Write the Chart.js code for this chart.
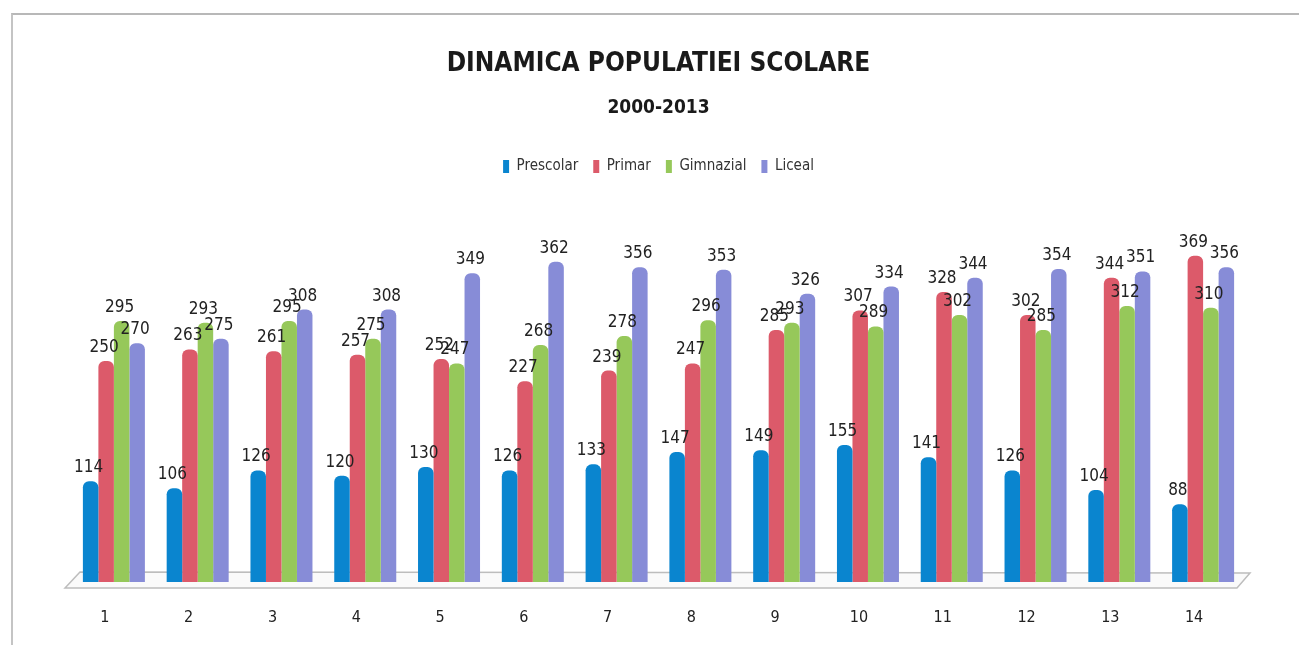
<!DOCTYPE html>
<html>
<head>
<meta charset="utf-8">
<script src="https://cdn.jsdelivr.net/npm/chart.js@4"></script>
<style>
  html, body { margin: 0; padding: 0; background: #fff; }
  #wrap { position: relative; width: 1299px; height: 645px; overflow: hidden; }
  #frame { position: absolute; left: 11px; top: 13px; width: 1400px; height: 700px;
           border-top: 2px solid #b8b8b8; border-left: 2px solid #c4c4c4; }
  canvas { position: absolute; left: 0; top: 0; }
</style>
</head>
<body>
<div id="wrap">
  <div id="frame"></div>
  <canvas id="chart" width="1299" height="645"></canvas>
</div>
<script>
// categories and series
const categories = ['1', '2', '3', '4', '5', '6', '7', '8', '9', '10', '11', '12', '13', '14'];
const prescolar = [114, 106, 126, 120, 130, 126, 133, 147, 149, 155, 141, 126, 104, 88];
const primar = [250, 263, 261, 257, 252, 227, 239, 247, 285, 307, 328, 302, 344, 369];
const gimnazial = [295, 293, 295, 275, 247, 268, 278, 296, 293, 289, 302, 285, 312, 310];
const liceal = [270, 275, 308, 308, 349, 362, 356, 353, 326, 334, 344, 354, 351, 356];

const narrow = '"Liberation Sans Narrow", "DejaVu Sans Condensed", sans-serif';

// grey floor under the bars, like the 3D floor of the original
const floorPlugin = {
  id: 'floor',
  beforeDatasetsDraw(chart) {
    const { ctx, chartArea } = chart;
    const y = chartArea.bottom;
    ctx.save();
    ctx.beginPath();
    ctx.moveTo(chartArea.left - 7, y + 6);
    ctx.lineTo(chartArea.left + 8, y - 10);
    ctx.lineTo(chartArea.right + 5, y - 9);
    ctx.lineTo(chartArea.right - 8, y + 6);
    ctx.closePath();
    ctx.fillStyle = '#fafafa';
    ctx.fill();
    ctx.strokeStyle = '#bdbdbd';
    ctx.lineWidth = 1.5;
    ctx.stroke();
    ctx.restore();
  }
};

// value labels above every bar
const valueLabels = {
  id: 'valueLabels',
  afterDatasetsDraw(chart) {
    const { ctx } = chart;
    ctx.save();
    ctx.font = '17px ' + narrow;
    ctx.fillStyle = '#222';
    ctx.textAlign = 'center';
    ctx.textBaseline = 'bottom';
    chart.data.datasets.forEach((ds, i) => {
      chart.getDatasetMeta(i).data.forEach((bar, j) => {
        ctx.fillText(ds.data[j], bar.x - 2, bar.y - 5);
      });
    });
    ctx.restore();
  }
};

const ctx = document.getElementById('chart').getContext('2d');
new Chart(ctx, {
  type: 'bar',
  data: {
    labels: categories,
    datasets: [
      { label: 'Prescolar', data: prescolar, backgroundColor: '#0A85CF' },
      { label: 'Primar', data: primar, backgroundColor: '#DC5A6A' },
      { label: 'Gimnazial', data: gimnazial, backgroundColor: '#96C85A' },
      { label: 'Liceal', data: liceal, backgroundColor: '#878CD7' }
    ]
  },
  options: {
    responsive: false,
    animation: false,
    datasets: {
      bar: {
        categoryPercentage: 0.74,
        barPercentage: 1.0,
        borderRadius: { topLeft: 6, topRight: 6 },
        borderSkipped: 'bottom'
      }
    },
    layout: { padding: { left: 72, right: 54, top: 0, bottom: 19 } },
    scales: {
      x: {
        grid: { display: false, drawTicks: false },
        border: { display: false },
        afterFit(scale) { scale.height = 44; },
        ticks: {
          padding: 26,
          labelOffset: -9,
          color: '#222',
          font: { family: narrow, size: 16 }
        }
      },
      y: {
        display: false,
        min: 0,
        max: 450
      }
    },
    plugins: {
      title: {
        display: true,
        text: 'DINAMICA POPULATIEI SCOLARE',
        color: '#1a1a1a',
        font: { family: narrow, size: 26, weight: 'bold' },
        padding: { top: 49, bottom: 14 }
      },
      subtitle: {
        display: true,
        text: '2000-2013',
        color: '#1a1a1a',
        font: { family: narrow, size: 19, weight: 'bold' },
        padding: { top: 2, bottom: 25 }
      },
      legend: {
        position: 'top',
        labels: {
          boxWidth: 6,
          boxHeight: 13,
          padding: 15,
          color: '#333',
          font: { family: narrow, size: 15 }
        }
      },
      tooltip: { enabled: false }
    }
  },
  plugins: [floorPlugin, valueLabels]
});
</script>
</body>
</html>
